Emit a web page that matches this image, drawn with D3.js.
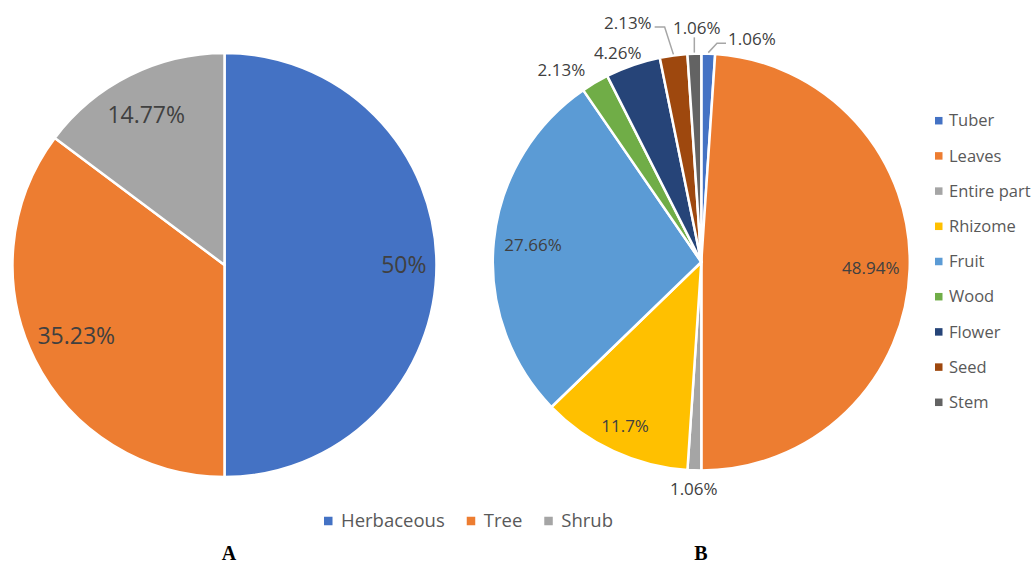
<!DOCTYPE html>
<html>
<head>
<meta charset="utf-8">
<script src="https://cdn.jsdelivr.net/npm/d3@7"></script>
<style>
  html, body { margin: 0; padding: 0; background: #fff; }
  svg { display: block; }
  text { font-family: "Open Sans", "Noto Sans", sans-serif; }
</style>
</head>
<body>
<svg id="chart" width="1032" height="565"></svg>
<script>
// ---- Panel A: growth habit ----
const habitCategories = ["Herbaceous", "Tree", "Shrub"];
const habitValues = [50, 35.23, 14.77];
const habitLabels = ["50%", "35.23%", "14.77%"];
const habitColors = ["#4472C4", "#ED7D31", "#A5A5A5"];

// ---- Panel B: plant part used ----
const partCategories = ["Tuber", "Leaves", "Entire part", "Rhizome", "Fruit", "Wood", "Flower", "Seed", "Stem"];
const partValues = [1.06, 48.94, 1.06, 11.7, 27.66, 2.13, 4.26, 2.13, 1.06];
const partLabels = ["1.06%", "48.94%", "1.06%", "11.7%", "27.66%", "2.13%", "4.26%", "2.13%", "1.06%"];
const partColors = ["#4472C4", "#ED7D31", "#A5A5A5", "#FFC000", "#5B9BD5", "#70AD47", "#264478", "#9E480E", "#636363"];

// Small slices get their label outside; a few crowded ones are shifted and get a leader line
const outsideLimit = 5;
const labelNudge = {
  "Shrub": [0, 6], "Tree": [-3, -2],
  "Wood": [-19, 12], "Flower": [-7, 11], "Seed": [-43, -12], "Stem": [3, -7], "Tuber": [43, 4]
};
const withLeader = ["Tuber", "Seed", "Stem"];

const svg = d3.select("#chart");
const labelColor = "#404040";
const legendColor = "#595959";

function drawPie(opts) {
  const { cx, cy, r, categories, values, labels, colors, fontSize } = opts;
  const g = svg.append("g").attr("transform", `translate(${cx},${cy})`);
  const pie = d3.pie().sort(null).value(d => d.value);
  const arcs = pie(categories.map((c, i) => ({ cat: c, value: values[i], label: labels[i], color: colors[i] })));
  const arc = d3.arc().innerRadius(0).outerRadius(r);

  g.selectAll("path.slice").data(arcs).join("path")
    .attr("class", "slice")
    .attr("d", arc)
    .attr("fill", d => d.data.color)
    .attr("stroke", "#fff")
    .attr("stroke-width", 2.5)
    .attr("stroke-linejoin", "round");

  const halfH = fontSize * 0.47;
  const lbl = g.selectAll("g.lbl").data(arcs).join("g").attr("class", "lbl");
  lbl.each(function (d) {
    const t = d3.select(this).append("text")
      .attr("text-anchor", "middle")
      .attr("dy", "0.357em")
      .attr("fill", labelColor)
      .style("font-size", fontSize + "px")
      .text(d.data.label);
    const hw = t.node().getComputedTextLength() / 2;
    const a = (d.startAngle + d.endAngle) / 2;
    const sx = Math.sin(a), cyv = -Math.cos(a);
    const extent = Math.abs(sx) * hw + Math.abs(cyv) * halfH;
    const outside = opts.outside && d.data.value < outsideLimit;
    const dist = outside ? r + 9.5 + extent : r - 10 - extent;
    let x = sx * dist, y = cyv * dist;
    if (labelNudge[d.data.cat]) {
      x += labelNudge[d.data.cat][0];
      y += labelNudge[d.data.cat][1];
    }
    t.attr("x", x).attr("y", y);

    if (outside && withLeader.includes(d.data.cat)) {
      const px = sx * (r + 1), py = cyv * (r + 1);
      let pts;
      if (px < x - hw) {
        pts = [[x - hw - 2, y + 4], [x - hw - 11, y + 4], [px, py]];
      } else if (px > x + hw) {
        pts = [[x + hw + 3, y + 4], [x + hw + 13, y + 4], [px, py]];
      } else {
        pts = [[px, y + halfH + 1], [px, py]];
      }
      d3.select(this).insert("path", "text")
        .attr("d", d3.line()(pts))
        .attr("fill", "none")
        .attr("stroke", "#A6A6A6")
        .attr("stroke-width", 1.5);
    }
  });
}

drawPie({ cx: 224.5, cy: 265, r: 212, categories: habitCategories, values: habitValues,
  labels: habitLabels, colors: habitColors, fontSize: 23, outside: false });

drawPie({ cx: 701.3, cy: 262, r: 208.5, categories: partCategories, values: partValues,
  labels: partLabels, colors: partColors, fontSize: 17, outside: true });

// ---- Legend A: horizontal row under the left pie ----
(function () {
  const fs = 18.5, box = 8.5, gapText = 8.5, gapItem = 22;
  const row = svg.append("g");
  let x = 0;
  habitCategories.forEach((c, i) => {
    const item = row.append("g").attr("transform", `translate(${x},0)`);
    item.append("rect").attr("x", 0).attr("y", -box / 2).attr("width", box).attr("height", box).attr("fill", habitColors[i]);
    const t = item.append("text").attr("x", box + gapText).attr("dy", "0.35em")
      .attr("fill", legendColor).style("font-size", fs + "px").text(c);
    x += box + gapText + t.node().getComputedTextLength() + gapItem;
  });
  const total = x - gapItem;
  row.attr("transform", `translate(${468.5 - total / 2},521)`);
})();

// ---- Legend B: vertical list right of the right pie ----
(function () {
  const fs = 16.5, box = 7.5, step = 35.2;
  const col = svg.append("g").attr("transform", "translate(935,120.7)");
  partCategories.forEach((c, i) => {
    const item = col.append("g").attr("transform", `translate(0,${i * step})`);
    item.append("rect").attr("x", 0).attr("y", -box / 2).attr("width", box).attr("height", box).attr("fill", partColors[i]);
    item.append("text").attr("x", 14).attr("dy", "0.35em")
      .attr("fill", legendColor).style("font-size", fs + "px").text(c);
  });
})();

// ---- Panel letters ----
const letterFont = "'Liberation Serif', 'DejaVu Serif', serif";
[["A", 229], ["B", 701]].forEach(([txt, x]) => {
  svg.append("text").attr("x", x).attr("y", 560).attr("text-anchor", "middle")
    .style("font-family", letterFont).style("font-weight", "bold").style("font-size", "20px")
    .attr("fill", "#000").text(txt);
});
</script>
</body>
</html>
